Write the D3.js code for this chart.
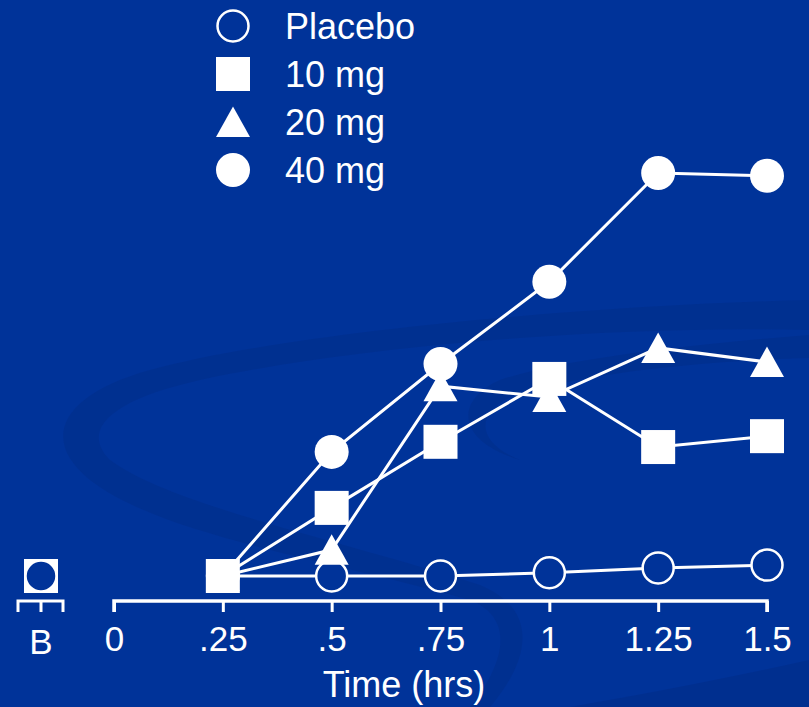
<!DOCTYPE html>
<html>
<head>
<meta charset="utf-8">
<script src="https://cdn.jsdelivr.net/npm/d3@7"></script>
<style>
  html, body { margin: 0; padding: 0; background: #003399; }
  svg { display: block; }
  text { font-family: "Liberation Sans", Arial, sans-serif; fill: #fff; }
</style>
</head>
<body>
<svg id="chart" width="809" height="707"></svg>
<script>
// Sampling times (hours) and baseline label
const times = [0.25, 0.5, 0.75, 1, 1.25, 1.5];
const tickValues = [0, 0.25, 0.5, 0.75, 1, 1.25, 1.5];
const tickLabels = ["0", ".25", ".5", ".75", "1", "1.25", "1.5"];
const baselineLabel = "B";

// Response by dose group (relative units), baseline value first
const placebo = [0, 0, 0, 0, 0.8, 2.0, 2.7];
const mg10    = [0, 0, 16.9, 33.3, 48.9, 32.0, 34.7];
const mg20    = [0, 0, 6.5, 47.1, 44.4, 56.6, 53.1];
const mg40    = [0, 0, 30.8, 52.6, 73.0, 100, 99.3];

const seriesNames = ["Placebo", "10 mg", "20 mg", "40 mg"];
const xTitle = "Time (hrs)";

const svg = d3.select("#chart");
const W = 809, H = 707;

// Background swirl artwork
const bg = svg.append("g");
bg.append("rect").attr("width", W).attr("height", H).attr("fill", "#003399");
const swirl = "#002d88";
bg.append("path")
  .attr("d", "M809,300 C600,305 300,330 150,370 C60,395 40,440 90,480 C160,535 330,560 470,600 C520,620 500,670 470,707 L490,707 C530,660 540,610 480,585 C340,540 170,505 110,460 C80,430 110,400 200,380 C360,345 620,325 809,330 Z")
  .attr("fill", swirl).attr("opacity", 0.5);
bg.append("path")
  .attr("d", "M809,335 C680,345 560,360 500,380 C455,400 455,440 520,460 C470,440 475,405 530,390 C610,370 720,360 809,358 Z")
  .attr("fill", swirl).attr("opacity", 0.5);
bg.append("path")
  .attr("d", "M809,660 C720,680 640,695 570,707 L809,707 Z")
  .attr("fill", swirl).attr("opacity", 0.6);

// Scales
const x = d3.scaleLinear().domain([0, 1.5]).range([114, 767]);
const xB = d3.scalePoint().domain([baselineLabel]).range([41, 41]);
const y = d3.scaleLinear().domain([0, 100]).range([576, 173]);

const axisY = 601;

// Main time axis
const xAxis = d3.axisBottom(x)
  .tickValues(tickValues)
  .tickFormat((d, i) => tickLabels[i])
  .tickSizeInner(11).tickSizeOuter(11).tickPadding(14);
const gx = svg.append("g").attr("transform", `translate(0,${axisY})`).call(xAxis);
gx.select(".domain").attr("stroke", "#fff").attr("stroke-width", 3.5)
  .attr("d", `M${x(0)},11V0H${x(1.5)}V11`);
gx.selectAll(".tick line").attr("stroke", "#fff").attr("stroke-width", 3);
gx.selectAll(".tick text").attr("fill", "#fff")
  .style("font-size", "35px").style("font-family", "'Liberation Sans', Arial, sans-serif");

// Baseline mini-axis
const gb = svg.append("g").attr("transform", `translate(0,${axisY})`);
const bx = xB(baselineLabel);
gb.append("path").attr("d", `M${bx - 23},11V0H${bx + 22}V11M${bx},0V11`)
  .attr("fill", "none").attr("stroke", "#fff").attr("stroke-width", 3);
gb.append("text").attr("x", bx).attr("y", 53).attr("text-anchor", "middle")
  .style("font-size", "35px").text(baselineLabel);

// Axis title
svg.append("text").attr("x", 404).attr("y", 697).attr("text-anchor", "middle")
  .style("font-size", "36px").text(xTitle);

// Series definitions
const groups = [
  { name: seriesNames[0], values: placebo, shape: "openCircle" },
  { name: seriesNames[2], values: mg20, shape: "triangle" },
  { name: seriesNames[1], values: mg10, shape: "square" },
  { name: seriesNames[3], values: mg40, shape: "circle" }
];

function drawMarker(g, shape, cx, cy) {
  if (shape === "openCircle") {
    g.append("circle").attr("cx", cx).attr("cy", cy).attr("r", 15.5)
      .attr("fill", "#003399").attr("stroke", "#fff").attr("stroke-width", 2.5);
  } else if (shape === "circle") {
    g.append("circle").attr("cx", cx).attr("cy", cy).attr("r", 17).attr("fill", "#fff");
  } else if (shape === "square") {
    g.append("rect").attr("x", cx - 17).attr("y", cy - 17)
      .attr("width", 34).attr("height", 34).attr("fill", "#fff");
  } else if (shape === "triangle") {
    g.append("path")
      .attr("d", `M${cx},${cy - 15.5}L${cx + 17},${cy + 15}L${cx - 17},${cy + 15}Z`)
      .attr("fill", "#fff");
  }
}

// Connecting lines (time points only)
const line = d3.line().x(d => x(d.t)).y(d => y(d.v));
const lineLayer = svg.append("g");
const markLayer = svg.append("g");
groups.forEach(gp => {
  const pts = times.map((t, i) => ({ t, v: gp.values[i + 1] }));
  lineLayer.append("path").datum(pts).attr("d", line)
    .attr("fill", "none").attr("stroke", "#fff").attr("stroke-width", 3);
});
groups.forEach(gp => {
  times.forEach((t, i) => drawMarker(markLayer, gp.shape, x(t), y(gp.values[i + 1])));
});

// Baseline markers (stacked, placebo drawn on top)
["circle", "triangle", "square", "openCircle"].forEach(shape => {
  const gp = groups.find(g => g.shape === shape);
  drawMarker(markLayer, shape, bx, y(gp.values[0]));
});

// Legend
const legendItems = [
  { name: seriesNames[0], shape: "openCircle" },
  { name: seriesNames[1], shape: "square" },
  { name: seriesNames[2], shape: "triangle" },
  { name: seriesNames[3], shape: "circle" }
];
const legend = svg.append("g");
legendItems.forEach((it, i) => {
  const cy = 26 + i * 48;
  drawMarker(legend, it.shape, 233, cy);
  legend.append("text").attr("x", 285).attr("y", cy + 13)
    .style("font-size", "36px").text(it.name);
});
</script>
</body>
</html>
